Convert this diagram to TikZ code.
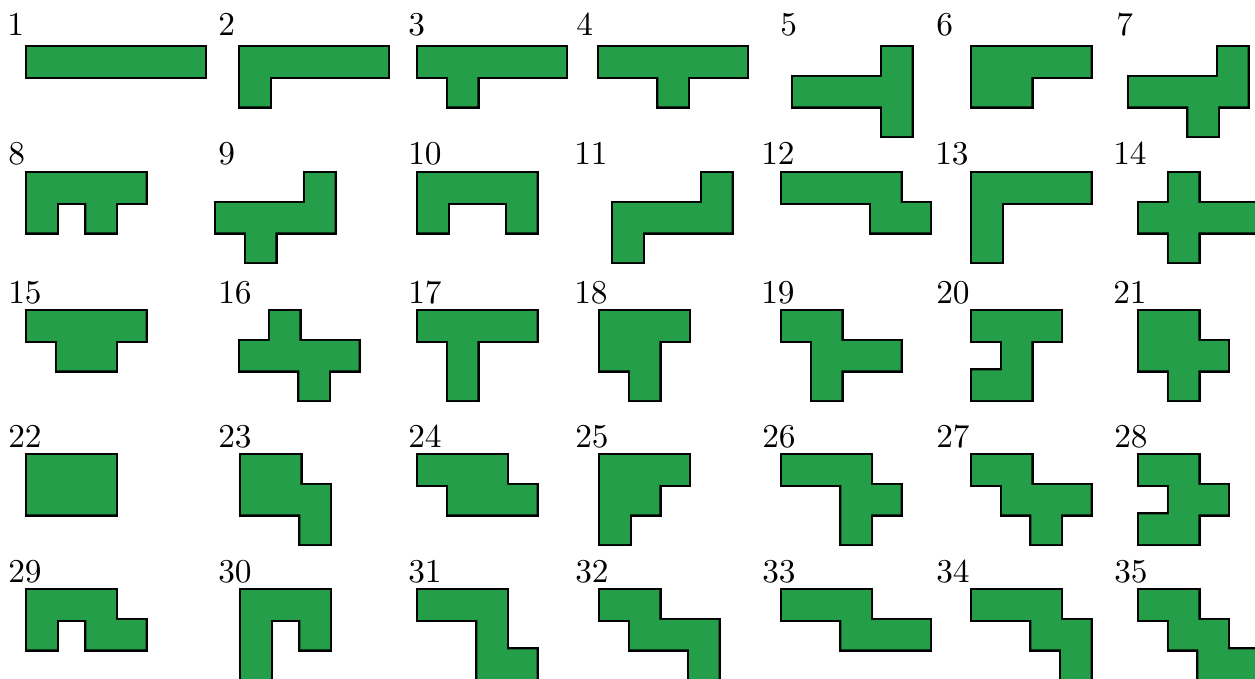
\documentclass[tikz,border=0pt]{standalone}
\usepackage{fontspec}
\setmainfont{Latin Modern Roman}
\newfontfamily\labfont{lmroman10-regular.otf}
\definecolor{hexgreen}{RGB}{36,158,73}
\tikzset{
  lab/.style={anchor=base west, inner sep=0pt, font=\labfont\fontsize{25}{30}\selectfont},
  hexline/.style={draw=black, line width=3.4pt, line join=miter},
  hexfill/.style={fill=hexgreen},
}
\newcommand\hexo[3]{%
  \path[hexline] foreach \i/\j in {#3} {(#1+2.2+\i*29.6, #2+2.2+\j*29.6) rectangle ++(29.6,29.6)};
  \path[hexfill] foreach \i/\j in {#3} {(#1+2.2+\i*29.6, #2+2.2+\j*29.6) rectangle ++(29.6,29.6)};
}
\begin{document}
\begin{tikzpicture}[x=0.75pt,y=-0.75pt]
\clip (0,0) rectangle (1255,678);
\fill[white] (0,0) rectangle (1255,678);
% row 1
\hexo{25}{45}{0/0,1/0,2/0,3/0,4/0,5/0}
\hexo{238}{45}{0/0,1/0,2/0,3/0,4/0,0/1}
\hexo{416}{45}{0/0,1/0,2/0,3/0,4/0,1/1}
\hexo{597}{45}{0/0,1/0,2/0,3/0,4/0,2/1}
\hexo{791}{45}{3/0,0/1,1/1,2/1,3/1,3/2}
\hexo{970}{45}{0/0,1/0,2/0,3/0,0/1,1/1}
\hexo{1127}{45}{3/0,0/1,1/1,2/1,3/1,2/2}
% row 2
\hexo{25}{171}{0/0,1/0,2/0,3/0,0/1,2/1}
\hexo{214}{171}{3/0,0/1,1/1,2/1,3/1,1/2}
\hexo{416}{171}{0/0,1/0,2/0,3/0,0/1,3/1}
\hexo{611}{171}{3/0,0/1,1/1,2/1,3/1,0/2}
\hexo{780}{171}{0/0,1/0,2/0,3/0,3/1,4/1}
\hexo{970}{171}{0/0,1/0,2/0,3/0,0/1,0/2}
\hexo{1137}{171}{1/0,0/1,1/1,2/1,3/1,1/2}
% row 3
\hexo{25}{309}{0/0,1/0,2/0,3/0,1/1,2/1}
\hexo{238}{309}{1/0,0/1,1/1,2/1,3/1,2/2}
\hexo{416}{309}{0/0,1/0,2/0,3/0,1/1,1/2}
\hexo{598}{309}{0/0,1/0,2/0,0/1,1/1,1/2}
\hexo{780}{309}{0/0,1/0,1/1,2/1,3/1,1/2}
\hexo{970}{309}{0/0,1/0,2/0,1/1,0/2,1/2}
\hexo{1137}{309}{0/0,1/0,0/1,1/1,2/1,1/2}
% row 4
\hexo{25}{453}{0/0,1/0,2/0,0/1,1/1,2/1}
\hexo{239}{453}{0/0,1/0,0/1,1/1,2/1,2/2}
\hexo{416}{453}{0/0,1/0,2/0,1/1,2/1,3/1}
\hexo{598}{453}{0/0,1/0,2/0,0/1,1/1,0/2}
\hexo{780}{453}{0/0,1/0,2/0,2/1,3/1,2/2}
\hexo{970}{453}{0/0,1/0,1/1,2/1,3/1,2/2}
\hexo{1137}{453}{0/0,1/0,1/1,2/1,0/2,1/2}
% row 5
\hexo{25}{588}{0/0,1/0,2/0,0/1,2/1,3/1}
\hexo{239}{588}{0/0,1/0,2/0,0/1,2/1,0/2}
\hexo{416}{588}{0/0,1/0,2/0,2/1,2/2,3/2}
\hexo{598}{588}{0/0,1/0,1/1,2/1,3/1,3/2}
\hexo{780}{588}{0/0,1/0,2/0,2/1,3/1,4/1}
\hexo{970}{588}{0/0,1/0,2/0,2/1,3/1,3/2}
\hexo{1137}{588}{0/0,1/0,1/1,2/1,2/2,3/2}
% labels
\node[lab] (l1) at (7,35) {1};
\node[lab] (l2) at (218,35) {2};
\node[lab] (l3) at (408,35) {3};
\node[lab] (l4) at (576,35) {4};
\node[lab] (l5) at (780,35) {5};
\node[lab] (l6) at (936,35) {6};
\node[lab] (l7) at (1116,35) {7};
\node[lab] (l8) at (8,164) {8};
\node[lab] (l9) at (218,164) {9};
\node[lab] (l10) at (408,164) {10};
\node[lab] (l11) at (574,164) {11};
\node[lab] (l12) at (761,164) {12};
\node[lab] (l13) at (935,164) {13};
\node[lab] (l14) at (1113,164) {14};
\node[lab] (l15) at (8,303) {15};
\node[lab] (l16) at (218,303) {16};
\node[lab] (l17) at (408,303) {17};
\node[lab] (l18) at (574,303) {18};
\node[lab] (l19) at (761,303) {19};
\node[lab] (l20) at (936,303) {20};
\node[lab] (l21) at (1113,303) {21};
\node[lab] (l22) at (8,447) {22};
\node[lab] (l23) at (218,447) {23};
\node[lab] (l24) at (408,447) {24};
\node[lab] (l25) at (575,447) {25};
\node[lab] (l26) at (762,447) {26};
\node[lab] (l27) at (936,447) {27};
\node[lab] (l28) at (1114,447) {28};
\node[lab] (l29) at (8,582) {29};
\node[lab] (l30) at (218,582) {30};
\node[lab] (l31) at (408,582) {31};
\node[lab] (l32) at (575,582) {32};
\node[lab] (l33) at (762,582) {33};
\node[lab] (l34) at (936,582) {34};
\node[lab] (l35) at (1114,582) {35};
\end{tikzpicture}
\end{document}
